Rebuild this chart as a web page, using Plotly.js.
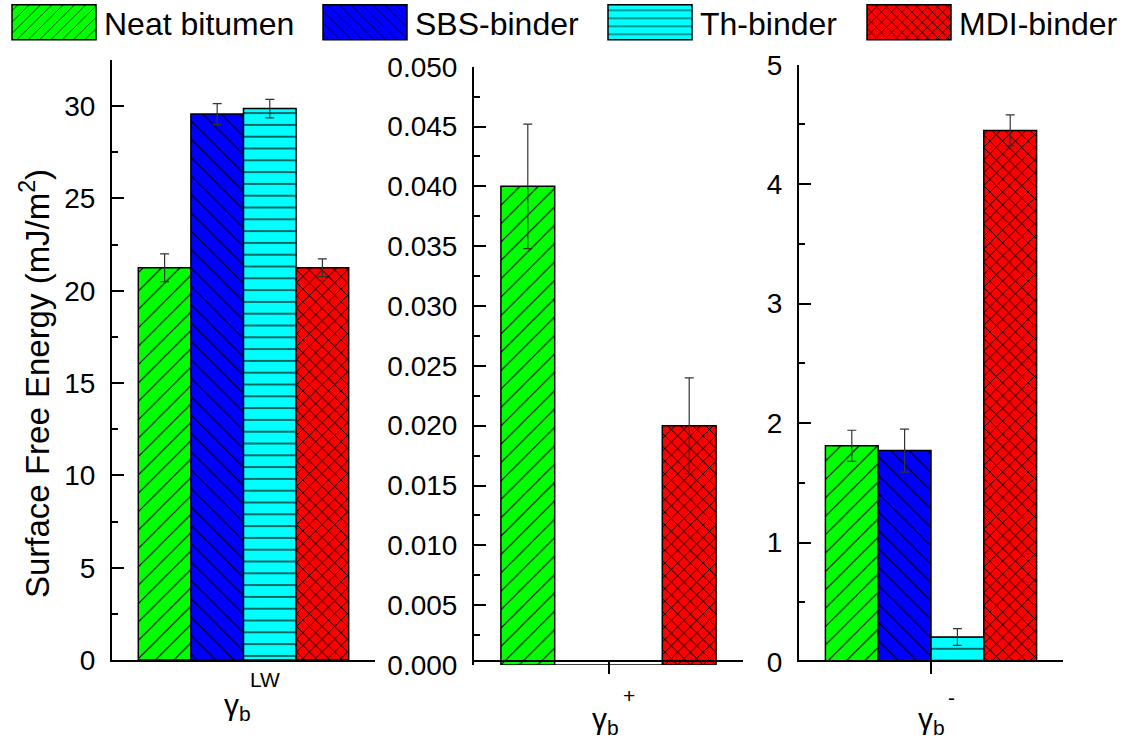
<!DOCTYPE html>
<html>
<head>
<meta charset="utf-8">
<script src="https://cdn.plot.ly/plotly-3.0.1.min.js"></script>
<style>html,body{margin:0;padding:0;background:#fff;}#chart{width:1135px;height:749px;}</style>
</head>
<body>
<div id="chart"></div>
<script>
// ---- data ----
const components = ['LW', '+', '-'];
const seriesNames = ['Neat bitumen', 'SBS-binder', 'Th-binder', 'MDI-binder'];
const neatVals = [21.25, 0.040, 1.81];
const neatErr  = [0.75, 0.0052, 0.13];
const sbsVals  = [29.57, 0, 1.77];
const sbsErr   = [0.57, 0, 0.18];
const thVals   = [29.87, 0, 0.21];
const thErr    = [0.50, 0, 0.07];
const mdiVals  = [21.25, 0.020, 4.45];
const mdiErr   = [0.48, 0.004, 0.13];

const seriesVals = [neatVals, sbsVals, thVals, mdiVals];
const seriesErrs = [neatErr, sbsErr, thErr, mdiErr];
const seriesColors = ['#00ff00', '#0000ff', '#00ffff', '#ff0000'];
const seriesShapes = ['/', '\\', '-', 'x'];
const seriesSizes = [13, 13, 11.8, 9];
const seriesSolid = [0.09, 0.09, 0.1, 0.2];
const legendIds = ['legend', 'legend2', 'legend3', 'legend4'];
const legendLeft = [10, 321, 606, 865];

const W = 1135, H = 749;
const px = x => x / W;
const py = y => 1 - y / H;

const traces = [];
for (let s = 0; s < seriesNames.length; s++) {
  for (let p = 0; p < components.length; p++) {
    const v = seriesVals[s][p];
    const e = seriesErrs[s][p];
    traces.push({
      type: 'bar',
      name: seriesNames[s],
      legendgroup: seriesNames[s],
      legend: legendIds[s],
      showlegend: p === 0,
      x: [components[p]],
      y: [v],
      xaxis: p === 0 ? 'x' : 'x' + (p + 1),
      yaxis: p === 0 ? 'y' : 'y' + (p + 1),
      error_y: {type: 'data', array: [e], visible: e > 0, color: '#333', thickness: 1.2, width: 4.5},
      marker: {
        color: seriesColors[s],
        line: {color: '#000', width: 1.5},
        pattern: {shape: seriesShapes[s], fillmode: 'overlay', fgcolor: '#000', fgopacity: 1,
                  bgcolor: seriesColors[s], size: seriesSizes[s], solidity: seriesSolid[s]}
      },
      hoverinfo: 'y+name'
    });
  }
}

const font = {family: 'Arial, "Liberation Sans", sans-serif', color: '#000'};
function xax(domain, showTick) {
  return {domain: domain, type: 'category', range: [-0.5, 0.5], showticklabels: false,
    ticks: showTick ? 'outside' : '', ticklen: 12, tickwidth: 2, tickcolor: '#000',
    showline: true, linecolor: '#000', linewidth: 2, showgrid: false, zeroline: false,
    automargin: false, fixedrange: true};
}
function yax(domain, range, dtick, minorDtick, fmt, anchor) {
  const a = {domain: domain, range: range, dtick: dtick, tick0: 0, anchor: anchor,
    ticks: 'inside', ticklen: 12, tickwidth: 2, tickcolor: '#000',
    minor: {ticks: 'inside', ticklen: 6, tickwidth: 2, tickcolor: '#000', dtick: minorDtick, tick0: 0, showgrid: false},
    showline: true, linecolor: '#000', linewidth: 2, showgrid: false, zeroline: false,
    tickfont: Object.assign({size: 28}, font), ticklabelstandoff: 9, automargin: false, fixedrange: true};
  if (fmt) a.tickformat = fmt;
  return a;
}
function leg(left) {
  return {orientation: 'h', x: px(left), xanchor: 'left', y: 1 + 5 / H, yanchor: 'top',
          font: Object.assign({size: 32}, font), itemwidth: 84, bgcolor: 'rgba(0,0,0,0)',
          itemclick: false, itemdoubleclick: false};
}

const labFont = Object.assign({size: 30}, font);
const supFont = Object.assign({size: 21}, font);
function ann(text, x, y, f, xanchor) {
  return {text: text, xref: 'paper', yref: 'paper', x: px(x), y: py(y), xanchor: xanchor || 'center',
          yanchor: 'middle', showarrow: false, font: f};
}

const layout = {
  width: W, height: H,
  margin: {l: 0, r: 0, t: 0, b: 0, autoexpand: false},
  paper_bgcolor: '#fff', plot_bgcolor: 'rgba(0,0,0,0)',
  barmode: 'group', bargap: 0.2, bargroupgap: 0,
  showlegend: true,
  legend: leg(legendLeft[0]),
  legend2: leg(legendLeft[1]),
  legend3: leg(legendLeft[2]),
  legend4: leg(legendLeft[3]),
  xaxis:  xax([px(112), px(375)], false),
  xaxis2: xax([px(474), px(743)], true),
  xaxis3: xax([px(799), px(1063)], true),
  yaxis:  yax([py(660), py(60)], [0, 32.5], 5, 2.5, null, 'x'),
  yaxis2: yax([py(665), py(66.7)], [0, 0.05], 0.005, 0.0025, '.3f', 'x2'),
  yaxis3: yax([py(662), py(64.7)], [0, 5], 1, 0.5, null, 'x3'),
  annotations: [
    {text: 'Surface Free Energy (mJ/m<sup>2</sup>)', xref: 'paper', yref: 'paper', x: px(35), y: py(384),
     xanchor: 'center', yanchor: 'middle', textangle: -90, showarrow: false, font: Object.assign({size: 33}, font)},
    ann('γ<sub>b</sub>', 237, 706, labFont),
    ann('LW', 248, 679, supFont, 'left'),
    ann('γ<sub>b</sub>', 605, 720, labFont),
    ann('+', 621, 695, supFont, 'left'),
    ann('γ<sub>b</sub>', 931, 720, labFont),
    ann('-', 946, 697, supFont, 'left')
  ]
};

Plotly.newPlot('chart', traces, layout, {displayModeBar: false, staticPlot: true}).then(function (gd) {
  // widen the legend swatches to the long boxes of the original
  gd.querySelectorAll('.legendpoints path').forEach(function (p) {
    p.setAttribute('d', 'M39,17.5H-45V-17.5H39Z');
    p.style.strokeWidth = '1.5px';
    p.style.stroke = '#000';
  });
});
</script>
</body>
</html>
